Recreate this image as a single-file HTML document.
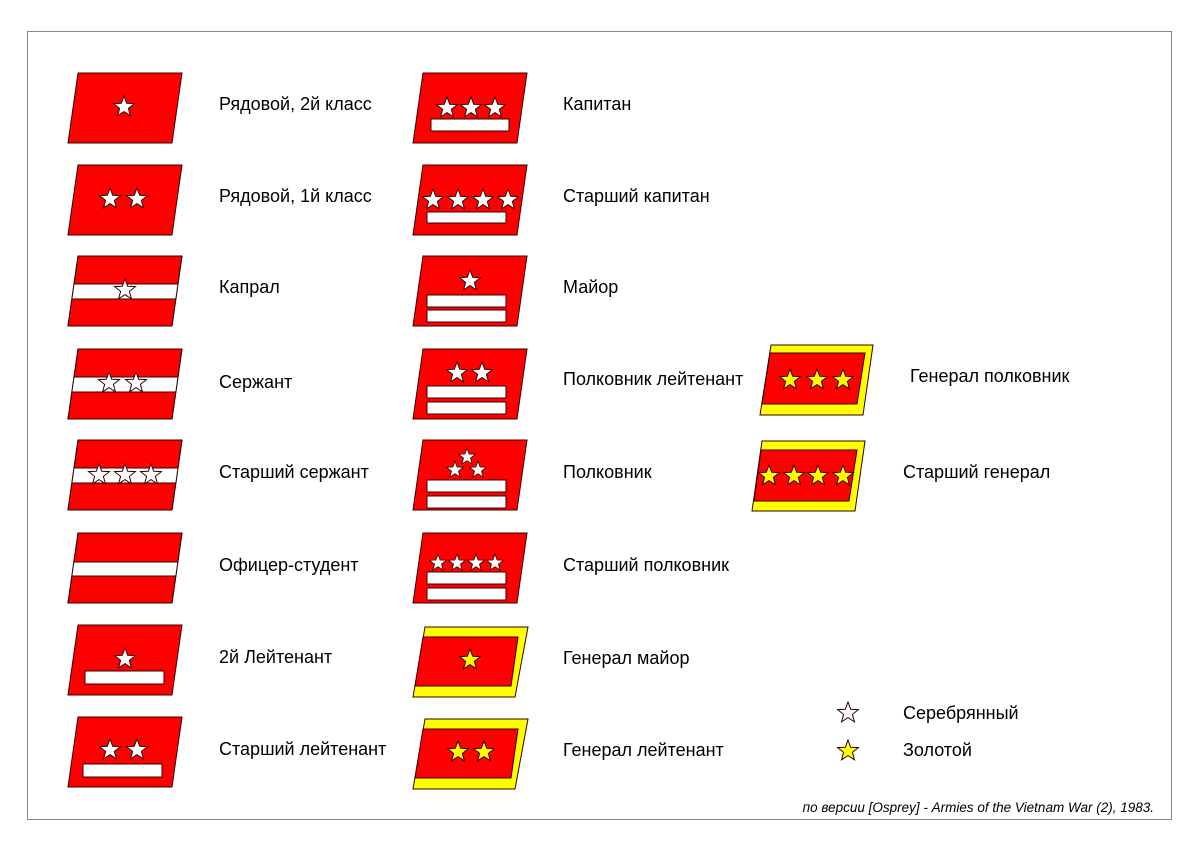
<!DOCTYPE html>
<html><head><meta charset="utf-8"><style>
html,body{margin:0;padding:0;background:#fff}
svg{display:block}
text{font-family:"Liberation Sans",Arial,sans-serif;font-size:18px;fill:#000}
</style></head><body>
<svg width="1200" height="850" viewBox="0 0 1200 850" xmlns="http://www.w3.org/2000/svg">
<defs>
<path id="s" d="M0,-11 L2.70,-3.72 10.46,-3.40 4.37,1.42 6.47,8.90 0,4.6 -6.47,8.90 -4.37,1.42 -10.46,-3.40 -2.70,-3.72Z"/>
<clipPath id="cp" clipPathUnits="userSpaceOnUse"><polygon points="10,0 114,0 104,70 0,70"/></clipPath>
<polygon id="b" points="10,0 114,0 104,70 0,70"/>
</defs>
<rect x="27.5" y="31.5" width="1144" height="788" fill="#fff" stroke="#888" stroke-width="1"/>
<g stroke="#300" stroke-width="1">
<g transform="translate(68,73)"><use href="#b" fill="#f00"/><use href="#s" x="56" y="34" fill="#fff"/></g>
<g transform="translate(68,165)"><use href="#b" fill="#f00"/><use href="#s" x="42" y="34" fill="#fff"/><use href="#s" x="69" y="34" fill="#fff"/></g>
<g transform="translate(68,256)"><use href="#b" fill="#f00"/><rect x="-5" y="28" width="130" height="15" fill="#fff" clip-path="url(#cp)"/><use href="#b" fill="none"/><use href="#s" x="57" y="34" fill="#fff"/></g>
<g transform="translate(68,349)"><use href="#b" fill="#f00"/><rect x="-5" y="28" width="130" height="15" fill="#fff" clip-path="url(#cp)"/><use href="#b" fill="none"/><use href="#s" x="41" y="34" fill="#fff"/><use href="#s" x="68" y="34" fill="#fff"/></g>
<g transform="translate(68,440)"><use href="#b" fill="#f00"/><rect x="-5" y="28" width="130" height="15" fill="#fff" clip-path="url(#cp)"/><use href="#b" fill="none"/><use href="#s" x="31" y="35" fill="#fff"/><use href="#s" x="57" y="35" fill="#fff"/><use href="#s" x="83" y="35" fill="#fff"/></g>
<g transform="translate(68,533)"><use href="#b" fill="#f00"/><rect x="-5" y="29" width="130" height="14" fill="#fff" clip-path="url(#cp)"/><use href="#b" fill="none"/></g>
<g transform="translate(68,625)"><use href="#b" fill="#f00"/><use href="#s" x="57" y="34" fill="#fff"/><rect x="17" y="46" width="79" height="13" fill="#fff"/></g>
<g transform="translate(68,717)"><use href="#b" fill="#f00"/><use href="#s" x="42" y="33" fill="#fff"/><use href="#s" x="69" y="33" fill="#fff"/><rect x="15" y="47" width="79" height="13" fill="#fff"/></g>
<g transform="translate(413,73)"><use href="#b" fill="#f00"/><use href="#s" x="34" y="35" fill="#fff"/><use href="#s" x="58" y="35" fill="#fff"/><use href="#s" x="82" y="35" fill="#fff"/><rect x="18" y="46" width="78" height="12" fill="#fff"/></g>
<g transform="translate(413,165)"><use href="#b" fill="#f00"/><use href="#s" x="20" y="35" fill="#fff"/><use href="#s" x="45" y="35" fill="#fff"/><use href="#s" x="70" y="35" fill="#fff"/><use href="#s" x="95" y="35" fill="#fff"/><rect x="14" y="47" width="79" height="11" fill="#fff"/></g>
<g transform="translate(413,256)"><use href="#b" fill="#f00"/><use href="#s" x="57" y="25" fill="#fff"/><rect x="14" y="39" width="79" height="12" fill="#fff"/><rect x="14" y="54" width="79" height="12" fill="#fff"/></g>
<g transform="translate(413,349)"><use href="#b" fill="#f00"/><use href="#s" x="44" y="24" fill="#fff"/><use href="#s" x="69" y="24" fill="#fff"/><rect x="14" y="37" width="79" height="12" fill="#fff"/><rect x="14" y="53" width="79" height="12" fill="#fff"/></g>
<g transform="translate(413,440)"><use href="#b" fill="#f00"/><use href="#s" transform="translate(54,17) scale(0.8)" fill="#fff"/><use href="#s" transform="translate(42,30) scale(0.8)" fill="#fff"/><use href="#s" transform="translate(65,30) scale(0.8)" fill="#fff"/><rect x="14" y="40" width="79" height="12" fill="#fff"/><rect x="14" y="56" width="79" height="12" fill="#fff"/></g>
<g transform="translate(413,533)"><use href="#b" fill="#f00"/><use href="#s" transform="translate(25,30) scale(0.8)" fill="#fff"/><use href="#s" transform="translate(44,30) scale(0.8)" fill="#fff"/><use href="#s" transform="translate(63,30) scale(0.8)" fill="#fff"/><use href="#s" transform="translate(82,30) scale(0.8)" fill="#fff"/><rect x="14" y="39" width="79" height="12" fill="#fff"/><rect x="14" y="55" width="79" height="12" fill="#fff"/></g>
<polygon points="425,627 528,627 515,697 413,697" fill="#ff0"/><polygon points="423,637 518,637 511,686 415,686" fill="#f00"/><use href="#s" x="470" y="660" fill="#ff0"/>
<polygon points="425,719 528,719 515,789 413,789" fill="#ff0"/><polygon points="423,729 518,729 511,778 415,778" fill="#f00"/><use href="#s" x="458" y="752" fill="#ff0"/><use href="#s" x="484" y="752" fill="#ff0"/>
<polygon points="771,345 873,345 863,415 760,415" fill="#ff0"/><polygon points="770,353 865,353 857,404 762,404" fill="#f00"/><use href="#s" x="790" y="380" fill="#ff0"/><use href="#s" x="817" y="380" fill="#ff0"/><use href="#s" x="843" y="380" fill="#ff0"/>
<polygon points="762,441 865,441 855,511 752,511" fill="#ff0"/><polygon points="761,450 857,450 849,501 754,501" fill="#f00"/><use href="#s" x="769" y="476" fill="#ff0"/><use href="#s" x="794" y="476" fill="#ff0"/><use href="#s" x="818" y="476" fill="#ff0"/><use href="#s" x="843" y="476" fill="#ff0"/>
<use href="#s" x="848" y="713" fill="#fff"/><use href="#s" x="848" y="751" fill="#ff0"/>
</g>
<g>
<text x="219" y="110">Рядовой, 2й класс</text>
<text x="219" y="202">Рядовой, 1й класс</text>
<text x="219" y="293">Капрал</text>
<text x="219" y="388">Сержант</text>
<text x="219" y="478">Старший сержант</text>
<text x="219" y="571">Офицер-студент</text>
<text x="219" y="663">2й Лейтенант</text>
<text x="219" y="755">Старший лейтенант</text>
<text x="563" y="110">Капитан</text>
<text x="563" y="202">Старший капитан</text>
<text x="563" y="293">Майор</text>
<text x="563" y="385">Полковник лейтенант</text>
<text x="563" y="478">Полковник</text>
<text x="563" y="571">Старший полковник</text>
<text x="563" y="664">Генерал майор</text>
<text x="563" y="756">Генерал лейтенант</text>
<text x="910" y="382">Генерал полковник</text>
<text x="903" y="478">Старший генерал</text>
<text x="903" y="719">Серебрянный</text>
<text x="903" y="756">Золотой</text>
<text x="1154" y="812" text-anchor="end" style="font-size:13.5px;font-style:italic">по версии [Osprey] - Armies of the Vietnam War (2), 1983.</text>
</g>
</svg>
</body></html>
